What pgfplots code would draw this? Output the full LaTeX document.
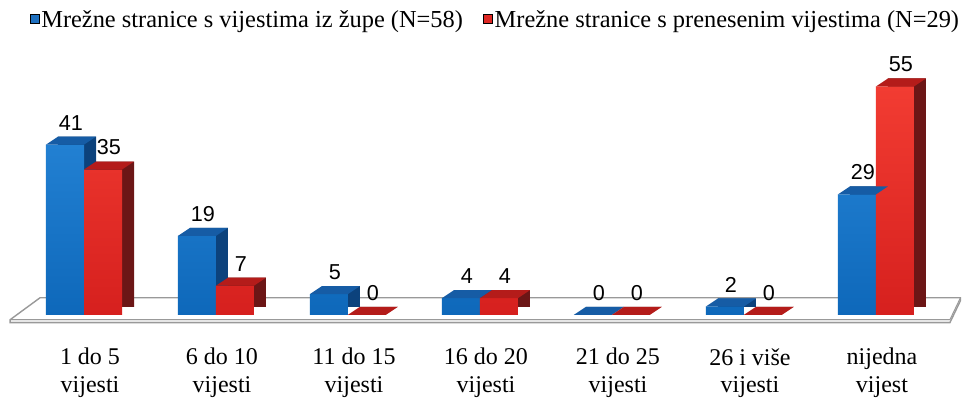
\documentclass[border=0pt]{standalone}
\usepackage{pgfplots}
\pgfplotsset{compat=1.18}
\usepackage{fontspec}
\setmainfont{Liberation Serif}
\newfontfamily\arial{Liberation Sans}
\definecolor{blueFt}{RGB}{34,128,210}
\definecolor{blueFb}{RGB}{14,104,186}
\definecolor{blueT}{RGB}{22,92,165}
\definecolor{blueS}{RGB}{12,66,124}
\definecolor{blueL}{RGB}{30,112,192}
\definecolor{redFt}{RGB}{242,60,50}
\definecolor{redFb}{RGB}{214,32,30}
\definecolor{redT}{RGB}{180,28,26}
\definecolor{redS}{RGB}{108,22,22}
\definecolor{redL}{RGB}{222,40,36}
\pgfdeclareplotmark{topB}{%
  \pgfpathmoveto{\pgfpoint{-19pt}{0pt}}%
  \pgfpathlineto{\pgfpoint{0pt}{0pt}}%
  \pgfpathlineto{\pgfpoint{6pt}{4pt}}%
  \pgfpathlineto{\pgfpoint{-13pt}{4pt}}%
  \pgfpathclose\pgfusepathqfill}
\pgfdeclareplotmark{topR}{%
  \pgfpathmoveto{\pgfpoint{0pt}{0pt}}%
  \pgfpathlineto{\pgfpoint{19pt}{0pt}}%
  \pgfpathlineto{\pgfpoint{25pt}{4pt}}%
  \pgfpathlineto{\pgfpoint{6pt}{4pt}}%
  \pgfpathclose\pgfusepathqfill}
\pgfplotstableread{
x y
0 41
1 19
2 5
3 4
4 0
5 2
6 29
}\blue
\pgfplotstableread{
x y
0 35
1 7
2 0
3 4
4 0
5 0
6 55
}\red
\begin{document}
\begin{tikzpicture}
\begin{axis}[
  scale only axis, width=468.6pt, height=138pt,
  xmin=-0.55, xmax=6.55, ymin=-1.5, ymax=65,
  clip=false, set layers,
  axis x line=bottom, axis y line=none,
  x axis line style={draw=none}, xtick style={draw=none},
  xtick={0,1,2,3,4,5,6},
  xticklabels={{1 do 5\\vijesti},{6 do 10\\vijesti},{11 do 15\\vijesti},{16 do 20\\vijesti},{21 do 25\\vijesti},{26 i više\\vijesti},{nijedna\\vijest}},
  xticklabel style={align=center, font=\fontsize{12}{13.8}\selectfont, yshift=-8pt, xshift=3pt},
  ytick=\empty,
  legend style={at={(axis description cs:0.0125,1.156)}, anchor=north west, draw=none, fill=none,
    font=\fontsize{12.2}{14}\selectfont, /tikz/every even column/.append style={column sep=9pt},
    nodes={inner xsep=1pt}},
  legend columns=2,
  legend image code/.code={\fill[#1] (0pt,-1.5pt) rectangle (4.5pt,3pt);},
  /pgf/number format/assume math mode=true,
  every node near coord/.append style={font=\arial\fontsize{10.8}{12}\selectfont, anchor=south, yshift=5.5pt, inner sep=1.5pt, text=black},
]
% floor
\begin{pgfonlayer}{axis background}
\fill[gray!10] (axis cs:-0.56,-1.2) -- (axis cs:-0.56,-1.9) -- (axis cs:6.56,-1.9) -- (axis cs:6.56,-1.2) -- cycle;
\fill[white] (axis cs:-0.56,-1.2) -- (axis cs:-0.333,4.1) -- (axis cs:6.64,4.1) -- (axis cs:6.56,-1.2) -- cycle;
\draw[gray!80, line width=0.7pt] (axis cs:-0.56,-1.9) -- (axis cs:-0.56,-1.2) -- (axis cs:-0.333,4.1) -- (axis cs:6.64,4.1) -- (axis cs:6.64,3.4) -- (axis cs:6.56,-1.9) -- cycle;
\draw[gray!80, line width=0.5pt] (axis cs:-0.56,-1.2) -- (axis cs:6.56,-1.2) -- (axis cs:6.64,4.1);
\end{pgfonlayer}
\addlegendimage{fill=blueL}
\addlegendentry{Mrežne stranice s vijestima iz župe (N=58)}
\addlegendimage{fill=redL}
\addlegendentry{Mrežne stranice s prenesenim vijestima (N=29)}
% blue
\addplot[ybar, bar width=19pt, bar shift=-9.5pt, xshift=6pt, yshift=4pt, fill=blueS, draw=none, forget plot] table {\blue};
\addplot[ybar, bar width=19pt, bar shift=-9.5pt, top color=blueFt, bottom color=blueFb, draw=none, forget plot, nodes near coords,
  every node near coord/.append style={xshift=-6.5pt}] table {\blue};
\addplot[only marks, mark=topB, mark options={fill=blueT, draw=none}, forget plot] table {\blue};
% red
\addplot[ybar, bar width=19pt, bar shift=9.5pt, xshift=6pt, yshift=4pt, fill=redS, draw=none, forget plot] table {\red};
\addplot[ybar, bar width=19pt, bar shift=9.5pt, top color=redFt, bottom color=redFb, draw=none, forget plot, nodes near coords,
  every node near coord/.append style={xshift=12.5pt}] table {\red};
\addplot[only marks, mark=topR, mark options={fill=redT, draw=none}, forget plot] table {\red};
\end{axis}
\pgfresetboundingbox
\path[use as bounding box] (-5.7pt,-39.5pt) rectangle (476.3pt,160.5pt);
\end{tikzpicture}
\end{document}
